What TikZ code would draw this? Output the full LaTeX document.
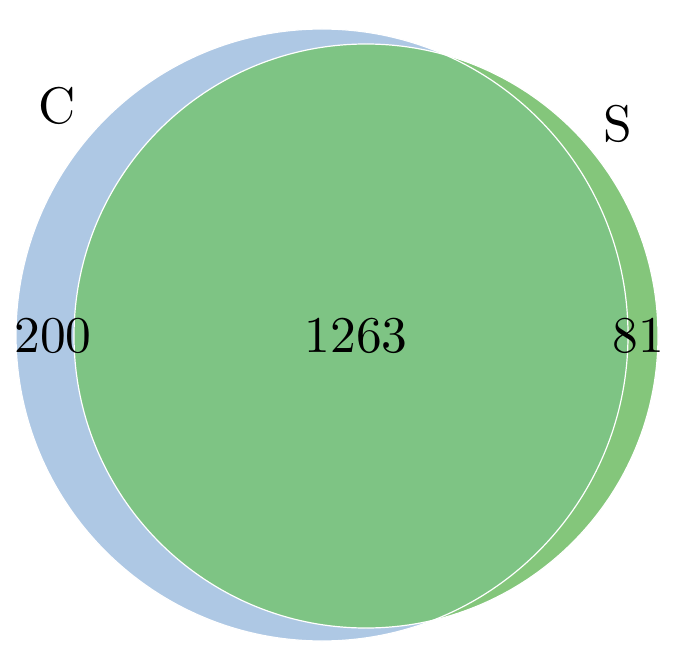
\documentclass[tikz,border=0pt]{standalone}
\begin{document}
\begin{tikzpicture}[x=1pt,y=-1pt,
  lab/.style={inner sep=0pt,scale=5.15,font=\fontsize{10}{12}\selectfont},
  rim/.style={draw=white,line width=1.2pt}]
\definecolor{cblue}{RGB}{174,200,228}
\definecolor{cgreen}{RGB}{132,198,123}
\definecolor{cover}{RGB}{126,196,132}
\useasboundingbox (0,0) rectangle (700,660);
\fill[cblue] (322,335) circle[radius=306];
\fill[cgreen] (366,336) circle[radius=292];
\begin{scope}
  \clip (322,335) circle[radius=306];
  \fill[cover] (366,336) circle[radius=292];
\end{scope}
\draw[rim] (322,335) circle[radius=306];
\draw[rim] (366,336) circle[radius=292];
\node[lab] (c) at (57,106) {C};
\node[lab] (s) at (618,124) {S};
\node[lab] (a) at (53,336) {200};
\node[lab] (b) at (356,336) {1263};
\node[lab] (d) at (638,336) {81};
\end{tikzpicture}
\end{document}
